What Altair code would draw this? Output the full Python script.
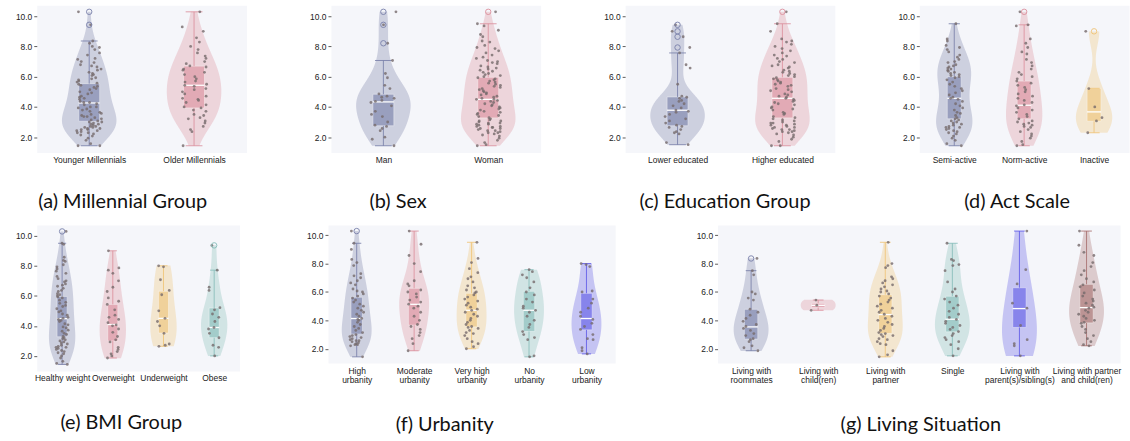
import json

import altair as alt
import pandas as pd

# ---------------------------------------------------------------- styling ---
PALETTE = ["#787fa9", "#dc8f9c", "#efc477", "#86bdb9", "#5f5ae7", "#a8716f"]
PLOT_BG = "#f5f6fa"
DOT_COLOR = "#766a6b"
Y_DOMAIN = [0.99, 10.72]
Y_TICKS = [2, 4, 6, 8, 10]
CAPTION_FONT = "Lato"
TICK_FONT = "Liberation Sans"

# ------------------------------------------------------ (a) Millennial group
millennial_groups = ["Younger Millennials", "Older Millennials"]
millennial_scores = [
    [1.43, 1.43, 1.57, 1.79, 1.93, 2.07, 2.14, 2.21, 2.29, 2.29, 2.36, 2.43, 2.43, 2.5, 2.5,
     2.57, 2.57, 2.64, 2.64, 2.71, 2.71, 2.79, 2.86, 2.86, 2.93, 3.0, 3.0, 3.07, 3.14, 3.21,
     3.29, 3.36, 3.36, 3.43, 3.5, 3.57, 3.64, 3.71, 3.79, 3.86, 3.93, 4.0, 4.0, 4.14, 4.21,
     4.29, 4.29, 4.36, 4.5, 4.57, 4.64, 4.71, 4.86, 4.93, 5.0, 5.14, 5.21, 5.29, 5.36, 5.43,
     5.5, 5.57, 5.64, 5.71, 5.79, 5.86, 5.93, 6.07, 6.14, 6.21, 6.29, 6.43, 6.5, 6.64, 6.71,
     6.79, 6.93, 7.0, 7.14, 7.21, 7.43, 7.57, 7.79, 7.93, 8.0, 8.21, 8.36, 9.43, 10.29],
    [1.43, 2.36, 2.5, 2.71, 2.93, 3.07, 3.21, 3.29, 3.43, 3.5, 3.71, 3.79, 3.93, 4.0, 4.14,
     4.29, 4.43, 4.5, 4.57, 4.71, 4.86, 5.0, 5.14, 5.21, 5.36, 5.43, 5.5, 5.64, 5.71, 5.86,
     6.0, 6.14, 6.29, 6.43, 6.5, 6.64, 6.71, 6.86, 7.0, 7.21, 7.36, 7.57, 7.79, 8.0, 8.29,
     8.57, 9.0, 9.29, 10.29],
]
millennial_q1 = [3.05, 3.93]
millennial_median = [4.26, 5.43]
millennial_q3 = [5.54, 6.70]
millennial_whisker_low = [1.43, 1.43]
millennial_whisker_high = [8.36, 10.29]
millennial_outliers = [[9.43, 10.29], []]

# ------------------------------------------------------------------ (b) Sex
sex_groups = ["Man", "Woman"]
sex_scores = [
    [1.43, 1.86, 2.0, 2.43, 2.57, 2.71, 2.79, 3.0, 3.36, 3.5, 3.71, 4.07, 4.29, 4.36, 4.43,
     4.57, 4.64, 4.71, 4.86, 5.21, 5.43, 5.93, 6.21, 7.07, 8.21, 9.43, 10.29],
    [1.43, 1.5, 1.64, 1.79, 1.93, 2.07, 2.14, 2.21, 2.29, 2.29, 2.36, 2.43, 2.43, 2.5, 2.57,
     2.57, 2.64, 2.64, 2.71, 2.71, 2.79, 2.86, 2.86, 2.93, 2.93, 3.0, 3.07, 3.07, 3.14, 3.21,
     3.29, 3.36, 3.43, 3.5, 3.57, 3.64, 3.71, 3.79, 3.86, 3.93, 4.0, 4.07, 4.14, 4.21, 4.29,
     4.36, 4.43, 4.5, 4.5, 4.57, 4.64, 4.71, 4.79, 4.86, 4.93, 5.0, 5.07, 5.14, 5.21, 5.29,
     5.36, 5.43, 5.5, 5.57, 5.64, 5.71, 5.79, 5.86, 5.93, 6.0, 6.07, 6.14, 6.21, 6.29, 6.36,
     6.43, 6.5, 6.57, 6.64, 6.71, 6.86, 6.93, 7.0, 7.07, 7.21, 7.29, 7.43, 7.57, 7.71, 7.86,
     7.93, 8.07, 8.29, 8.36, 8.64, 8.79, 9.07, 9.36, 9.5, 10.29],
]
sex_q1 = [2.75, 3.27]
sex_median = [4.33, 4.50]
sex_q3 = [4.84, 5.96]
sex_whisker_low = [1.43, 1.43]
sex_whisker_high = [7.07, 9.50]
sex_outliers = [[8.21, 9.43, 10.29], [10.29]]

# ------------------------------------------------------ (c) Education group
education_groups = ["Lower educated", "Higher educated"]
education_scores = [
    [1.5, 1.64, 2.21, 2.29, 2.36, 2.5, 2.64, 2.71, 2.79, 2.93, 3.07, 3.21, 3.36, 3.5, 3.64,
     3.71, 3.79, 3.93, 4.07, 4.21, 4.36, 4.43, 4.57, 4.64, 4.71, 5.5, 6.57, 6.79, 7.57, 7.93,
     8.64, 9.0, 9.43],
    [1.43, 1.43, 1.71, 1.86, 2.0, 2.14, 2.21, 2.29, 2.36, 2.36, 2.43, 2.5, 2.5, 2.57, 2.64,
     2.64, 2.71, 2.79, 2.79, 2.86, 2.93, 2.93, 3.0, 3.07, 3.14, 3.21, 3.29, 3.36, 3.5, 3.57,
     3.64, 3.79, 3.86, 3.93, 4.0, 4.14, 4.21, 4.29, 4.36, 4.43, 4.5, 4.57, 4.64, 4.71, 4.79,
     4.86, 5.0, 5.07, 5.14, 5.21, 5.36, 5.43, 5.5, 5.57, 5.64, 5.71, 5.79, 5.86, 5.93, 6.0,
     6.07, 6.14, 6.21, 6.29, 6.36, 6.43, 6.57, 6.64, 6.71, 6.79, 6.93, 7.0, 7.14, 7.21, 7.36,
     7.43, 7.57, 7.71, 7.86, 8.0, 8.14, 8.29, 8.36, 8.5, 9.0, 9.5, 10.29],
]
education_q1 = [2.75, 3.27]
education_median = [3.78, 4.57]
education_q3 = [4.66, 5.96]
education_whisker_low = [1.50, 1.43]
education_whisker_high = [7.57, 9.50]
education_outliers = [[7.93, 8.64, 9.0, 9.43], [10.29]]

# ---------------------------------------------------------- (d) Act scale
activity_groups = ["Semi-active", "Norm-active", "Inactive"]
activity_scores = [
    [1.43, 1.57, 1.79, 1.93, 2.07, 2.21, 2.29, 2.36, 2.43, 2.5, 2.57, 2.64, 2.64, 2.71, 2.79,
     2.86, 2.93, 3.0, 3.07, 3.14, 3.21, 3.29, 3.43, 3.57, 3.64, 3.79, 3.93, 4.07, 4.21, 4.36,
     4.5, 4.57, 4.64, 4.79, 4.93, 5.07, 5.21, 5.36, 5.5, 5.64, 5.79, 5.93, 6.0, 6.07, 6.14,
     6.21, 6.29, 6.36, 6.43, 6.5, 6.57, 6.64, 6.71, 6.79, 6.93, 7.0, 7.14, 7.29, 7.43, 7.64,
     7.79, 7.93, 8.07, 8.36, 8.5, 9.5],
    [1.43, 1.5, 1.71, 1.93, 2.07, 2.21, 2.36, 2.5, 2.64, 2.71, 2.79, 2.86, 2.93, 3.0, 3.07,
     3.21, 3.36, 3.5, 3.64, 3.79, 3.93, 4.07, 4.14, 4.29, 4.43, 4.57, 4.71, 4.86, 5.0, 5.14,
     5.29, 5.43, 5.57, 5.71, 5.86, 6.0, 6.14, 6.29, 6.5, 6.71, 6.93, 7.14, 7.5, 7.64, 7.93,
     8.21, 8.5, 9.36, 9.43, 10.29],
    [2.29, 3.07, 3.29, 4.0, 5.21, 9.0],
]
activity_q1 = [3.21, 3.21, 3.05]
activity_median = [4.57, 4.11, 3.67]
activity_q3 = [6.00, 5.71, 5.23]
activity_whisker_low = [1.43, 1.43, 2.29]
activity_whisker_high = [9.50, 9.43, 5.23]
activity_outliers = [[], [10.29], [9.0]]

# ---------------------------------------------------------- (e) BMI group
bmi_groups = ["Healthy weight", "Overweight", "Underweight", "Obese"]
bmi_scores = [
    [1.43, 1.5, 1.64, 1.86, 2.0, 2.14, 2.21, 2.29, 2.36, 2.43, 2.5, 2.57, 2.57, 2.64, 2.71,
     2.79, 2.86, 2.93, 3.0, 3.07, 3.14, 3.21, 3.29, 3.43, 3.5, 3.64, 3.71, 3.86, 3.93, 4.07,
     4.14, 4.29, 4.36, 4.43, 4.5, 4.57, 4.71, 4.79, 4.93, 5.0, 5.14, 5.29, 5.36, 5.5, 5.57,
     5.71, 5.86, 5.93, 6.0, 6.07, 6.14, 6.29, 6.36, 6.5, 6.64, 6.71, 6.79, 6.93, 7.0, 7.14,
     7.29, 7.5, 7.64, 7.79, 7.93, 8.07, 8.29, 8.36, 8.57, 9.43, 9.5, 10.29],
    [1.86, 2.0, 2.14, 2.29, 2.43, 2.57, 2.93, 3.07, 3.29, 3.57, 3.79, 4.0, 4.07, 4.21, 4.43,
     4.57, 4.71, 5.07, 5.43, 5.64, 5.86, 6.29, 6.57, 7.0, 7.5, 7.71, 7.86, 9.0],
    [2.64, 2.71, 2.79, 3.5, 4.0, 4.29, 4.5, 5.0, 6.07, 6.36, 7.07, 7.93, 8.0],
    [2.0, 2.57, 2.71, 3.21, 3.5, 3.79, 3.89, 4.29, 4.57, 4.79, 5.07, 5.21, 6.36, 6.57, 7.71,
     9.36],
]
bmi_q1 = [3.27, 2.99, 3.52, 3.21]
bmi_median = [4.48, 4.09, 4.50, 3.89]
bmi_q3 = [5.96, 5.43, 6.31, 5.19]
bmi_whisker_low = [1.43, 1.86, 2.64, 2.0]
bmi_whisker_high = [9.50, 9.0, 8.0, 7.71]
bmi_outliers = [[10.29], [], [], [9.36]]

# ----------------------------------------------------------- (f) Urbanity
urbanity_groups = ["High\nurbanity", "Moderate\nurbanity", "Very high\nurbanity",
                   "No\nurbanity", "Low\nurbanity"]
urbanity_scores = [
    [1.43, 2.21, 2.29, 2.29, 2.36, 2.43, 2.5, 2.57, 2.57, 2.64, 2.71, 2.79, 2.86, 2.93, 3.0,
     3.14, 3.29, 3.43, 3.57, 3.71, 3.86, 4.0, 4.07, 4.14, 4.29, 4.43, 4.57, 4.71, 4.86, 5.0,
     5.14, 5.29, 5.43, 5.57, 5.71, 5.86, 6.0, 6.07, 6.21, 6.5, 6.64, 6.79, 7.0, 7.14, 7.29,
     7.86, 8.07, 8.29, 9.0, 9.43, 10.29],
    [1.86, 2.36, 2.71, 2.93, 3.14, 3.36, 3.57, 3.71, 4.0, 4.29, 4.57, 4.86, 5.0, 5.14, 5.29,
     5.43, 5.64, 5.86, 6.0, 6.14, 6.43, 6.57, 6.79, 7.43, 8.0, 8.57, 9.36, 10.29],
    [2.0, 2.14, 2.36, 2.5, 2.71, 2.93, 3.07, 3.14, 3.29, 3.43, 3.5, 3.57, 3.71, 3.86, 4.0,
     4.14, 4.29, 4.43, 4.57, 4.71, 4.79, 4.93, 5.07, 5.21, 5.36, 5.5, 5.64, 5.79, 5.93, 6.0,
     6.14, 6.29, 6.43, 6.71, 6.93, 7.07, 7.36, 7.64, 8.07, 8.36, 9.5],
    [1.43, 1.5, 2.64, 2.79, 3.0, 3.21, 3.5, 3.71, 4.0, 4.29, 4.57, 4.71, 4.86, 5.0, 5.29,
     5.5, 5.79, 6.0, 6.29, 6.71, 7.0, 7.21, 7.43, 7.57],
    [1.64, 1.86, 2.07, 2.64, 2.71, 3.0, 3.36, 3.57, 3.79, 4.07, 4.29, 4.57, 4.86, 5.21, 5.5,
     6.0, 6.07, 7.79, 7.93, 8.0],
]
urbanity_q1 = [3.03, 3.66, 3.54, 3.22, 3.33]
urbanity_median = [4.13, 5.13, 4.71, 4.71, 4.13]
urbanity_q3 = [5.63, 6.26, 5.91, 6.05, 5.91]
urbanity_whisker_low = [1.43, 1.86, 2.0, 1.43, 1.64]
urbanity_whisker_high = [9.43, 10.29, 9.5, 7.57, 8.0]
urbanity_outliers = [[10.29], [], [], [], []]

# --------------------------------------------------- (g) Living situation
living_groups = ["Living with\nroommates", "Living with\nchild(ren)", "Living with\npartner",
                 "Single", "Living with\nparent(s)/sibling(s)",
                 "Living with partner\nand child(ren)"]
living_scores = [
    [1.86, 2.07, 2.21, 2.5, 2.64, 2.71, 2.93, 3.07, 3.29, 3.43, 3.57, 3.71, 3.93, 4.14, 4.36,
     4.57, 4.79, 5.43, 5.57, 5.86, 6.0, 7.21, 7.5, 8.36],
    [4.71, 5.07, 5.43],
    [1.43, 1.57, 1.86, 2.29, 2.36, 2.5, 2.64, 2.71, 2.86, 2.93, 3.0, 3.07, 3.14, 3.29, 3.43,
     3.57, 3.71, 3.86, 4.0, 4.14, 4.29, 4.43, 4.57, 4.71, 4.86, 5.0, 5.14, 5.29, 5.43, 5.57,
     5.71, 5.86, 6.0, 6.07, 6.21, 6.36, 6.5, 6.64, 6.79, 6.93, 7.07, 7.71, 7.86, 8.0, 9.5],
    [1.5, 2.0, 2.29, 2.5, 2.64, 2.79, 2.93, 3.07, 3.21, 3.36, 3.5, 3.64, 3.79, 3.93, 4.07,
     4.21, 4.43, 4.64, 4.86, 5.07, 5.29, 5.5, 5.71, 6.0, 6.21, 6.71, 7.5, 7.86, 7.93, 8.21,
     8.29, 9.43],
    [1.5, 2.21, 2.36, 2.64, 3.64, 4.86, 5.21, 6.57, 7.57, 10.29],
    [2.21, 2.29, 2.5, 2.71, 2.93, 3.14, 3.36, 3.57, 3.79, 3.86, 4.0, 4.14, 4.29, 4.43, 4.57,
     4.71, 4.86, 4.93, 5.07, 5.21, 5.36, 5.5, 5.71, 5.93, 6.14, 6.36, 6.5, 6.71, 6.93, 7.21,
     7.5, 7.79, 8.07, 8.57, 8.79, 9.29, 10.29],
]
living_q1 = [2.68, 4.90, 3.08, 3.19, 3.50, 3.82]
living_median = [3.54, 5.06, 4.41, 4.08, 4.83, 4.90]
living_q3 = [4.78, 5.20, 5.81, 5.70, 6.30, 6.54]
living_whisker_low = [1.86, 4.71, 1.43, 1.5, 1.5, 2.21]
living_whisker_high = [7.50, 5.43, 9.50, 9.43, 10.29, 10.29]
living_outliers = [[8.36], [], [], [], [], []]


def long_table(groups, groups_of_values):
    """Flatten per-group value lists into a (g, cat, score) table."""
    return pd.DataFrame({
        "g": [i for i, vals in enumerate(groups_of_values) for _ in vals],
        "cat": [groups[i] for i, vals in enumerate(groups_of_values) for _ in vals],
        "score": [v for vals in groups_of_values for v in vals],
    })


def violin_panel(groups, scores, q1, median, q3, w_low, w_high, outliers,
                 caption, width, height, y_extent, caption_dx, caption_offset):
    n = len(groups)
    dots = long_table(groups, scores)
    flyers = long_table(groups, outliers)
    boxes = pd.DataFrame({"g": list(range(n)), "cat": groups, "q1": q1, "median": median,
                          "q3": q3, "lo": w_low, "hi": w_high})

    x_scale = alt.Scale(domain=[-0.5, n - 0.5], nice=False, zero=False)
    y_scale = alt.Scale(domain=Y_DOMAIN, nice=False, zero=False)
    colors = alt.Scale(domain=groups, range=PALETTE[:n])
    label_lines = json.dumps([g.split("\n") for g in groups])
    x_axis = alt.Axis(values=list(range(n)), labelExpr=f"{label_lines}[datum.value]",
                      title=None, ticks=False, domain=False, grid=False,
                      labelFlush=False, labelOverlap=False, labelPadding=3,
                      labelLineHeight=10)
    y_axis = alt.Axis(values=Y_TICKS, format=".1f", title=None, ticks=True, tickSize=3,
                      tickColor="#333333", tickWidth=0.8, domain=False, grid=False,
                      labelPadding=2, minExtent=y_extent, maxExtent=y_extent)

    def X(field):
        return alt.X(field, scale=x_scale, axis=x_axis)

    def Y(field):
        return alt.Y(field, scale=y_scale, axis=y_axis)

    col = alt.Color("cat:N", scale=colors, legend=None)

    # kernel density per group, cut at the group's own min / max
    violin = alt.Chart(dots).transform_joinaggregate(
        gmin="min(score)", gmax="max(score)", groupby=["g"]
    ).transform_density(
        "score", groupby=["g", "cat", "gmin", "gmax"], as_=["score", "density"], steps=300
    ).transform_filter(
        "datum.score >= datum.gmin - 0.02 && datum.score <= datum.gmax + 0.02"
    ).transform_joinaggregate(
        peak="max(density)", groupby=["g"]
    ).transform_calculate(
        left="datum.g - 0.26 * datum.density / datum.peak",
        right="datum.g + 0.26 * datum.density / datum.peak",
    ).mark_area(orient="horizontal", opacity=0.32).encode(
        y=Y("score:Q"), x=X("left:Q"), x2="right:Q", color=col
    )

    box_base = alt.Chart(boxes).transform_calculate(
        bl="datum.g - 0.1", br="datum.g + 0.1", cl="datum.g - 0.08", cr="datum.g + 0.08"
    )
    box = box_base.mark_rect(opacity=0.6, stroke="white", strokeWidth=0.8,
                             strokeOpacity=0.7).encode(
        x=X("bl:Q"), x2="br:Q", y=Y("q1:Q"), y2="q3:Q", color=col
    )
    line_style = dict(strokeWidth=1, opacity=0.85)
    whisk_low = box_base.mark_rule(**line_style).encode(
        x=X("g:Q"), y=Y("lo:Q"), y2="q1:Q", color=col
    )
    whisk_high = box_base.mark_rule(**line_style).encode(
        x=X("g:Q"), y=Y("q3:Q"), y2="hi:Q", color=col
    )
    cap_low = box_base.mark_rule(**line_style).encode(
        x=X("cl:Q"), x2="cr:Q", y=Y("lo:Q"), color=col
    )
    cap_high = box_base.mark_rule(**line_style).encode(
        x=X("cl:Q"), x2="cr:Q", y=Y("hi:Q"), color=col
    )
    med = box_base.mark_rule(strokeWidth=1.3, color="white").encode(
        x=X("bl:Q"), x2="br:Q", y=Y("median:Q")
    )

    # strip of individual answers, spread sideways with a hashed offset
    strip = alt.Chart(dots).transform_window(
        rn="row_number()", groupby=["g"]
    ).transform_calculate(
        jx="datum.g + ((abs(sin(datum.rn * 12.9898 + datum.g * 3.7) * 43758.5453) % 1) - 0.5) * 0.24"
    ).mark_circle(size=8, opacity=0.8, color=DOT_COLOR).encode(
        x=X("jx:Q"), y=Y("score:Q")
    )

    layers = [violin, box, whisk_low, whisk_high, cap_low, cap_high, med, strip]
    if len(flyers):
        layers.append(
            alt.Chart(flyers).mark_point(shape="circle", filled=False, size=30,
                                         strokeWidth=1, opacity=0.9).encode(
                x=X("g:Q"), y=Y("score:Q"), color=col
            )
        )

    return alt.layer(*layers).properties(
        width=width, height=height,
        title=alt.TitleParams(caption, orient="bottom", anchor="middle",
                              font=CAPTION_FONT, fontSize=20, fontWeight="normal",
                              color="#111111", offset=caption_offset, dx=caption_dx),
    )


pa = violin_panel(millennial_groups, millennial_scores, millennial_q1, millennial_median,
                  millennial_q3, millennial_whisker_low, millennial_whisker_high,
                  millennial_outliers, "(a) Millennial Group", 211, 148, 31, -19, 28)
pb = violin_panel(sex_groups, sex_scores, sex_q1, sex_median, sex_q3, sex_whisker_low,
                  sex_whisker_high, sex_outliers, "(b) Sex", 211, 148, 26, -38, 28)
pc = violin_panel(education_groups, education_scores, education_q1, education_median,
                  education_q3, education_whisker_low, education_whisker_high,
                  education_outliers, "(c) Education Group", 211, 148, 26, -5, 28)
pd_ = violin_panel(activity_groups, activity_scores, activity_q1, activity_median,
                   activity_q3, activity_whisker_low, activity_whisker_high,
                   activity_outliers, "(d) Act Scale", 211, 148, 26, -7, 28)
pe = violin_panel(bmi_groups, bmi_scores, bmi_q1, bmi_median, bmi_q3, bmi_whisker_low,
                  bmi_whisker_high, bmi_outliers, "(e) BMI Group", 204, 147, 23, -17, 31)
pf = violin_panel(urbanity_groups, urbanity_scores, urbanity_q1, urbanity_median,
                  urbanity_q3, urbanity_whisker_low, urbanity_whisker_high,
                  urbanity_outliers, "(f) Urbanity", 289, 139, 26, -27, 31)
pg = violin_panel(living_groups, living_scores, living_q1, living_median, living_q3,
                  living_whisker_low, living_whisker_high, living_outliers,
                  "(g) Living Situation", 405, 139, 40, 2, 31)

row1 = alt.hconcat(pa, pb, pc, pd_, spacing=57).resolve_scale(color="independent")
row2 = alt.hconcat(pe, pf, pg, spacing=61).resolve_scale(color="independent")

chart = alt.vconcat(row1, row2, spacing=12).resolve_scale(
    color="independent"
).properties(
    padding={"left": 5, "top": 3, "right": 0, "bottom": 0}
).configure_view(
    fill=PLOT_BG, stroke="transparent"
).configure_axis(
    labelFont=TICK_FONT, labelFontSize=8.5, labelColor="#222222"
)

chart.save("out.html", embed_options={"renderer": "svg", "actions": False})
